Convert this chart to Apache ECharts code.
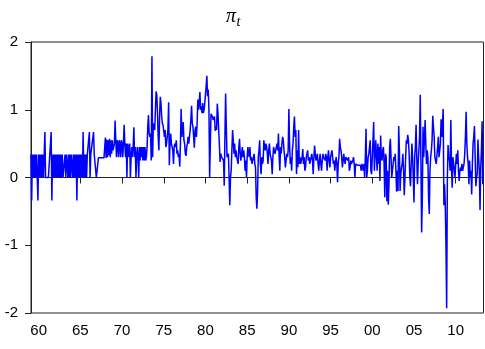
<!DOCTYPE html>
<html>
<head>
<meta charset="utf-8">
<script src="https://cdn.jsdelivr.net/npm/echarts@6/dist/echarts.min.js"></script>
<style>
html,body{margin:0;padding:0;background:#fff;}
#c{width:485px;height:349px;}
</style>
</head>
<body>
<div id="c"></div>
<script>
// Monthly series, starting 1959-02
const startYear = 1959;
const startMonth = 2;

const pi1959to1969 = [
  0.34, -0.34, 0.34, 0, 0.34, 0, 0.34, 0, 0.34, 0, -0.34,          // 1959 Feb-Dec
  0.34, 0, 0.34, 0, 0.34, 0, 0.34, 0, 0, 0.67, 0, 0,               // 1960
  0, 0, 0, 0, 0, 0, 0.67, -0.34, 0.34, 0, 0.34, 0,                 // 1961
  0.34, 0, 0.34, 0, 0.34, 0, 0.34, 0, 0.34, 0, 0.34, 0,            // 1962
  0, 0, 0.34, 0, 0.34, 0.34, 0, 0.34, 0, 0.34, 0, 0.34,            // 1963
  0.34, 0, 0.34, 0, 0.34, 0, 0.34, -0.34, 0.34, 0, 0.34, 0,        // 1964
  0.34, 0, 0.34, 0, 0.67, 0, 0.34, 0, 0.34, 0, 0.34, 0.34,         // 1965
  0.34, 0.67, 0, 0.34, 0.34, 0.34, 0.34, 0.67, 0.34, 0.34, 0.34, 0,// 1966
  0, 0, 0.29, 0.29, 0.29, 0.29, 0.29, 0.29, 0.29, 0.29, 0.29, 0.29,// 1967
  0.59, 0.29, 0.56, 0.3, 0.55, 0.33, 0.57, 0.3, 0.55, 0.35, 0.55, 0.4, // 1968
  0.4, 0.5, 0.84, 0.55, 0.3, 0.55, 0.5, 0.3, 0.55, 0.5, 0.3, 0.55  // 1969
];
const pi1970s = [
  0.5, 0.3, 0.5, 0.78, 0.5, 0.3, 0.5, 0.0, 0.5, 0.45, 0.3, 0.5,    // 1970
  0.0, 0.3, 0.45, 0.3, 0.45, 0.74, 0.3, 0.45, 0.0, 0.3, 0.45, 0.3, // 1971
  0.0, 0.45, 0.25, 0.45, 0.3, 0.45, 0.25, 0.45, 0.25, 0.45, 0.25, 0.3, // 1972
  0.45, 0.75, 0.92, 0.65, 0.6, 0.65, 0.25, 1.79, 0.3, 0.8, 0.75, 0.7, // 1973
  1.0, 1.27, 1.22, 0.95, 0.6, 0.4, 0.9, 1.19, 1.1, 0.9, 0.8, 0.77, // 1974
  0.77, 0.6, 0.7, 0.45, 0.5, 0.6, 0.7, 1.11, 0.18, 0.5, 0.65, 0.5, // 1975
  0.5, 0.4, 0.2, 0.45, 0.5, 0.45, 0.55, 0.35, 0.4, 0.3, 0.35, 0.16,// 1976
  0.5, 1.01, 0.6, 0.7, 0.82, 0.55, 0.5, 0.35, 0.32, 0.45, 0.5, 0.6,// 1977
  0.5, 0.6, 0.7, 0.85, 1.06, 0.8, 0.75, 0.6, 0.44, 0.7, 0.75, 0.6, // 1978
  0.8, 1.15, 1.0, 1.1, 1.26, 1.0, 1.05, 0.95, 1.1, 0.95, 1.0, 1.1  // 1979
];
const pi1980s = [
  1.1, 1.35, 1.5, 1.2, 1.3, 1.0, 0.0, 0.5, 0.94, 0.96, 0.9, 0.85,  // 1980
  0.85, 0.9, 0.69, 0.75, 0.7, 1.09, 0.95, 0.7, 0.5, 0.23, 0.35, 0.31, // 1981
  0.31, 0.3, 0.25, -0.12, 0.6, 1.24, 0.75, 0.3, 0.3, 0.35, 0.0, -0.41, // 1982
  0.0, 0.1, 0.4, 0.7, 0.55, 0.35, 0.5, 0.3, 0.4, 0.3, 0.25, 0.2,   // 1983
  0.45, 0.57, 0.35, 0.25, 0.35, 0.45, 0.3, 0.4, 0.3, 0.1, 0.25, 0.0, // 1984
  0.3, 0.45, 0.35, 0.3, 0.45, 0.25, 0.3, 0.2, 0.25, 0.3, 0.35, 0.2,// 1985
  0.15, -0.3, -0.46, -0.2, 0.3, 0.4, 0.55, 0.2, 0.05, 0.3, 0.2, 0.25, // 1986
  0.55, 0.45, 0.4, 0.5, 0.45, 0.35, 0.2, 0.4, 0.5, 0.35, 0.3, 0.25,// 1987
  0.05, 0.3, 0.45, 0.4, 0.35, 0.4, 0.45, 0.5, 0.4, 0.65, 0.3, 0.1, // 1988
  0.45, 0.35, 0.5, 0.6, 0.55, 0.4, 0.3, 0.15, 0.25, 0.35, 0.3, 0.4 // 1989
];
const pi1990s = [
  1.01, 0.5, 0.2, 0.3, 0.1, 0.4, 0.5, 0.75, 0.9, 0.6, 0.7, 0.05,   // 1990
  0.4, 0.15, 0.7, 0.2, 0.3, 0.2, 0.25, 0.3, 0.42, 0.2, 0.3, 0.1,   // 1991
  0.15, 0.3, 0.35, 0.4, 0.25, 0.3, 0.2, 0.25, 0.3, 0.35, 0.25, 0.05, // 1992
  0.3, 0.47, 0.35, 0.25, 0.3, 0.35, 0.2, 0.1, 0.25, 0.35, 0.2, 0.1,// 1993
  0.25, 0.35, 0.3, 0.3, 0.25, 0.35, 0.3, 0.1, 0.3, 0.4, 0.25, 0.15,// 1994
  0.3, 0.3, 0.4, 0.3, 0.2, 0.25, 0.1, 0.2, 0.3, 0.2, -0.07, 0.2,   // 1995
  0.3, 0.57, 0.45, 0.4, 0.3, 0.15, 0.25, 0.35, 0.25, 0.2, 0.3, 0.3,// 1996
  0.3, 0.25, 0.3, 0.1, 0.15, 0.25, 0.2, 0.2, 0.25, 0.3, 0.2, 0.0,  // 1997
  0.2, 0.18, 0.18, 0.18, 0.18, 0.18, 0.18, 0.18, 0.1, 0.2, 0.15, 0.1, // 1998
  0.2, 0.0, 0.3, 0.72, 0.0, 0.1, 0.3, 0.35, 0.45, 0.55, 0.1, 0.05  // 1999
];
const pi2000s = [
  0.3, 0.55, 0.82, 0.1, 0.35, 0.55, 0.3, 0.1, 0.5, 0.2, 0.45, -0.05, // 2000
  0.62, 0.3, 0.25, 0.4, 0.45, 0.2, -0.29, 0.35, 0.3, -0.35, 0.1, -0.4, // 2001
  -0.1, 0.45, 0.57, 0.55, 0.0, 0.1, 0.2, 0.3, 0.25, 0.35, 0.1, -0.21, // 2002
  0.1, -0.2, 0.76, 0.4, -0.2, 0.05, 0.15, 0.2, 0.35, 0.1, -0.26, 0.0, // 2003
  0.3, 0.55, 0.5, 0.63, 0.55, 0.35, 0.0, -0.13, 0.2, 0.5, 0.3, 0.0,  // 2004
  -0.37, 0.3, 0.45, 0.78, 0.3, -0.1, 0.2, 0.4, 0.6, 1.22, 0.2, -0.81, // 2005
  -0.3, 0.75, 0.3, 0.55, 0.85, 0.5, 0.2, 0.4, 0.3, -0.3, -0.54, 0.1, // 2006
  0.3, 0.4, 0.55, 0.91, 0.75, 0.6, 0.3, 0.3, 0.2, 0.2, 0.45, 0.6,    // 2007
  0.3, 0.3, 0.5, 0.86, 0.6, 0.8, 1.01, -0.41, -0.1, -0.4, -1.0, -1.93, // 2008
  0.0, 0.48, 0.3, 0.25, 0.1, 0.85, 0.15, -0.15, 0.3, 0.21, 0.2, 0.0   // 2009
];
const pi2010s = [
  0.2, 0.35, 0.2, 0.4, 0.1, -0.05, 0.1, 0.15, 0.1, 0.2, 0.1, 0.15,   // 2010
  0.2, 0.35, 0.6, 0.97, 0.5, 0.3, 0.2, -0.1, 0.25, 0.0, 0.1, -0.25,  // 2011
  0.2, 0.5, 0.6, 0.76, 0.3, -0.13, 0.0, 0.05, 0.56, 0.3, 0.1, -0.48, // 2012
  0.15, 0.4, 0.83, -0.1, -0.1                                        // 2013 Jan-May
];

const tickYears = [1960, 1965, 1970, 1975, 1980, 1985, 1990, 1995, 2000, 2005, 2010];
const tickLabels = ['60', '65', '70', '75', '80', '85', '90', '95', '00', '05', '10'];
const yMin = -2, yMax = 2, yStep = 1;

const values = [].concat(pi1959to1969, pi1970s, pi1980s, pi1990s, pi2000s, pi2010s);
const categories = values.map(function (_, k) {
  const mm = startMonth - 1 + k;
  const y = startYear + Math.floor(mm / 12);
  const m = (mm % 12) + 1;
  return y + '-' + (m < 10 ? '0' + m : '' + m);
});
const labelMap = {};
tickYears.forEach(function (y, i) { labelMap[y + '-01'] = tickLabels[i]; });
const isTick = function (idx, val) { return Object.prototype.hasOwnProperty.call(labelMap, val); };

const chart = echarts.init(document.getElementById('c'), null, {renderer: 'canvas'});
chart.setOption({
  animation: false,
  backgroundColor: '#ffffff',
  grid: {left: 31, right: 1.5, top: 42, bottom: 36, show: true, borderColor: '#222', borderWidth: 1, backgroundColor: 'transparent'},
  graphic: [
    {type: 'text', style: {x: 226, y: 16.5, text: 'π', font: 'italic 20px "Liberation Serif"', fill: '#000', verticalAlign: 'middle'}},
    {type: 'text', style: {x: 236.5, y: 22.5, text: 't', font: 'italic 14px "Liberation Serif"', fill: '#000', verticalAlign: 'middle'}}
  ],
  xAxis: {
    type: 'category',
    data: categories,
    boundaryGap: false,
    axisLine: {show: true, lineStyle: {color: '#222', width: 1}},
    axisTick: {show: true, interval: isTick, length: 6, lineStyle: {color: '#222'}},
    axisLabel: {show: true, interval: isTick, formatter: function (v) { return labelMap[v] || ''; },
      color: '#000', fontFamily: '"Liberation Sans", Arial, sans-serif', fontSize: 15, margin: 10},
    splitLine: {show: false}
  },
  yAxis: {
    type: 'value',
    min: yMin, max: yMax, interval: yStep,
    axisLine: {show: true, lineStyle: {color: '#222', width: 1}},
    axisTick: {show: true, length: 6, lineStyle: {color: '#222'}},
    axisLabel: {color: '#000', fontFamily: '"Liberation Sans", Arial, sans-serif', fontSize: 15, margin: 13},
    splitLine: {show: false}
  },
  series: [{
    type: 'line',
    data: values,
    symbol: 'none',
    showSymbol: false,
    lineStyle: {color: '#0000ff', width: 1.5},
    itemStyle: {color: '#0000ff'},
    emphasis: {disabled: true}
  }]
});
</script>
</body>
</html>
